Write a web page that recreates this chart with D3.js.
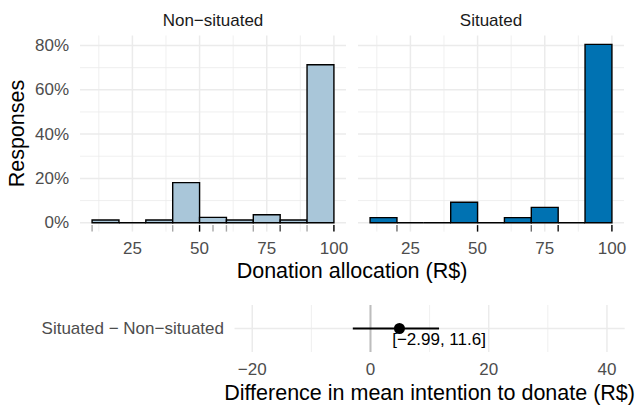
<!DOCTYPE html>
<html>
<head>
<meta charset="utf-8">
<script src="https://cdn.jsdelivr.net/npm/d3@7"></script>
<style>
    body { margin: 0; background: #fff; }
    text { font-family: "Liberation Sans", Arial, sans-serif; }
</style>
</head>
<body>
<div id="chart"></div>
<script>
// histogram bins (R$), width 10
const binStarts = [10, 20, 30, 40, 50, 60, 70, 80, 90];
const binWidth = 10;
const panels = ['Non\u2212situated', 'Situated'];
const nonSituatedPct = [1.2, 0, 1.2, 18.1, 2.4, 1.2, 3.6, 1.2, 71.3];
const situatedPct = [2.3, 0, 0, 9.2, 0, 2.3, 6.9, 0, 80.5];

// rug: observed allocation values and how many responses at each
const nonSituatedRug = [10, 40, 50, 55, 60, 70, 80, 90, 100];
const nonSituatedRugN = [1, 1, 15, 1, 1, 1, 3, 1, 59];
const situatedRug = [20, 50, 70, 80, 100];
const situatedRugN = [2, 8, 2, 6, 69];

const xTicks = [25, 50, 75, 100];
const xMinor = [12.5, 37.5, 62.5, 87.5];
const yTicks = [0, 20, 40, 60, 80];
const yMinor = [10, 30, 50, 70];

// difference in means
const contrast = ['Situated \u2212 Non\u2212situated'];
const estimate = [4.9];
const ciLow = [-2.99];
const ciHigh = [11.6];
const diffTicks = [-20, 0, 20, 40];
const diffMinor = [-10, 10, 30];

const width = 636;
const height = 407;
const grid = '#ebebeb';
const tickCol = '#4d4d4d';
const tickSize = 17;
const titleSize = 21.5;

const fmtNum = d => d < 0 ? '\u2212' + Math.abs(d) : String(d);

const svg = d3.select('#chart').append('svg')
    .attr('width', width)
    .attr('height', height);

const drawHistograms = function () {
    const top = 35.5, bottom = 231.6;
    const allPct = nonSituatedPct.concat(situatedPct);
    const yMax = d3.max(allPct);
    const pad = yMax * 0.05;
    const y = d3.scaleLinear().domain([-pad, yMax + pad]).range([bottom, top]);

    const series = [
        {name: panels[0], pct: nonSituatedPct, rug: nonSituatedRug, rugN: nonSituatedRugN, fill: '#a9c6d9', x0: 80, x1: 346},
        {name: panels[1], pct: situatedPct, rug: situatedRug, rugN: situatedRugN, fill: '#0072b2', x0: 358, x1: 624}
    ];

    series.forEach(function (s) {
        const x = d3.scaleLinear().domain([5.5, 104.5]).range([s.x0, s.x1]);
        const g = svg.append('g');

        // grid
        g.selectAll('.ymin').data(yMinor).enter().append('line')
            .attr('x1', s.x0).attr('x2', s.x1)
            .attr('y1', d => y(d)).attr('y2', d => y(d))
            .attr('stroke', grid).attr('stroke-width', 0.8);
        g.selectAll('.xmin').data(xMinor).enter().append('line')
            .attr('x1', d => x(d)).attr('x2', d => x(d))
            .attr('y1', top).attr('y2', bottom)
            .attr('stroke', grid).attr('stroke-width', 0.8);
        g.selectAll('.ymaj').data(yTicks).enter().append('line')
            .attr('x1', s.x0).attr('x2', s.x1)
            .attr('y1', d => y(d)).attr('y2', d => y(d))
            .attr('stroke', grid).attr('stroke-width', 1.5);
        g.selectAll('.xmaj').data(xTicks).enter().append('line')
            .attr('x1', d => x(d)).attr('x2', d => x(d))
            .attr('y1', top).attr('y2', bottom)
            .attr('stroke', grid).attr('stroke-width', 1.5);

        // bars as paths so empty bins still show their outline on the baseline
        g.selectAll('.bar').data(binStarts).enter().append('path')
            .attr('d', (d, i) => {
                const xa = x(d), xb = x(d + binWidth), y0 = y(0), yt = y(s.pct[i]);
                return `M${xa},${y0}V${yt}H${xb}V${y0}Z`;
            })
            .attr('fill', s.fill)
            .attr('stroke', '#000')
            .attr('stroke-width', 1.4)
            .attr('stroke-linejoin', 'miter');

        // rug along the bottom edge
        g.selectAll('.rug').data(s.rug).enter().append('line')
            .attr('x1', d => x(d)).attr('x2', d => x(d))
            .attr('y1', bottom - 6.5).attr('y2', bottom)
            .attr('stroke', '#000')
            .attr('stroke-width', 1.4)
            .attr('stroke-opacity', (d, i) => 1 - Math.pow(0.65, s.rugN[i]));

        // strip
        g.append('text')
            .attr('x', (s.x0 + s.x1) / 2).attr('y', 20)
            .attr('text-anchor', 'middle').attr('dominant-baseline', 'central')
            .attr('font-size', tickSize).attr('fill', '#1a1a1a')
            .text(s.name);

        // x tick labels
        g.selectAll('.xl').data(xTicks).enter().append('text')
            .attr('x', d => x(d)).attr('y', 248)
            .attr('text-anchor', 'middle').attr('dominant-baseline', 'central')
            .attr('font-size', tickSize).attr('fill', tickCol)
            .text(d => d);
    });

    // y tick labels
    svg.selectAll('.yl').data(yTicks).enter().append('text')
        .attr('x', 69).attr('y', d => y(d))
        .attr('text-anchor', 'end').attr('dominant-baseline', 'central')
        .attr('font-size', tickSize).attr('fill', tickCol)
        .text(d => d + '%');

    svg.append('text')
        .attr('transform', `translate(17,${(top + bottom) / 2}) rotate(-90)`)
        .attr('text-anchor', 'middle').attr('dominant-baseline', 'central')
        .attr('font-size', titleSize).attr('fill', '#000')
        .text('Responses');

    svg.append('text')
        .attr('x', 352).attr('y', 271)
        .attr('text-anchor', 'middle').attr('dominant-baseline', 'central')
        .attr('font-size', titleSize).attr('fill', '#000')
        .text('Donation allocation (R$)');
};

const drawDifference = function () {
    const x0 = 234.5, x1 = 624.7, top = 305, bottom = 352;
    const x = d3.scaleLinear().domain([-23, 43]).range([x0, x1]);
    const y = d3.scalePoint().domain(contrast).range([top, bottom]).padding(0.5);
    const g = svg.append('g');

    g.selectAll('.xmin').data(diffMinor).enter().append('line')
        .attr('x1', d => x(d)).attr('x2', d => x(d))
        .attr('y1', top).attr('y2', bottom)
        .attr('stroke', grid).attr('stroke-width', 0.8);
    g.selectAll('.xmaj').data(diffTicks).enter().append('line')
        .attr('x1', d => x(d)).attr('x2', d => x(d))
        .attr('y1', top).attr('y2', bottom)
        .attr('stroke', grid).attr('stroke-width', 1.5);
    g.selectAll('.ymaj').data(contrast).enter().append('line')
        .attr('x1', x0).attr('x2', x1)
        .attr('y1', d => y(d)).attr('y2', d => y(d))
        .attr('stroke', grid).attr('stroke-width', 1.5);

    // zero reference
    g.append('line')
        .attr('x1', x(0)).attr('x2', x(0))
        .attr('y1', top).attr('y2', bottom)
        .attr('stroke', '#bdbdbd').attr('stroke-width', 2);

    g.selectAll('.ci').data(contrast).enter().append('line')
        .attr('x1', (d, i) => x(ciLow[i])).attr('x2', (d, i) => x(ciHigh[i]))
        .attr('y1', d => y(d)).attr('y2', d => y(d))
        .attr('stroke', '#000').attr('stroke-width', 2);

    g.selectAll('.pt').data(contrast).enter().append('circle')
        .attr('cx', (d, i) => x(estimate[i])).attr('cy', d => y(d))
        .attr('r', 5.5).attr('fill', '#000');

    g.selectAll('.lab').data(contrast).enter().append('text')
        .attr('x', (d, i) => x(ciHigh[i])).attr('y', d => y(d) + 11)
        .attr('text-anchor', 'middle').attr('dominant-baseline', 'central')
        .attr('font-size', tickSize).attr('fill', '#000')
        .text((d, i) => `[${fmtNum(ciLow[i])}, ${fmtNum(ciHigh[i])}]`);

    g.selectAll('.yl').data(contrast).enter().append('text')
        .attr('x', 224).attr('y', d => y(d))
        .attr('text-anchor', 'end').attr('dominant-baseline', 'central')
        .attr('font-size', tickSize).attr('fill', tickCol)
        .text(d => d);

    g.selectAll('.xl').data(diffTicks).enter().append('text')
        .attr('x', d => x(d)).attr('y', 369)
        .attr('text-anchor', 'middle').attr('dominant-baseline', 'central')
        .attr('font-size', tickSize).attr('fill', tickCol)
        .text(fmtNum);

    svg.append('text')
        .attr('x', (x0 + x1) / 2).attr('y', 393)
        .attr('text-anchor', 'middle').attr('dominant-baseline', 'central')
        .attr('font-size', titleSize).attr('fill', '#000')
        .text('Difference in mean intention to donate (R$)');
};

drawHistograms();
drawDifference();
</script>
</body>
</html>
